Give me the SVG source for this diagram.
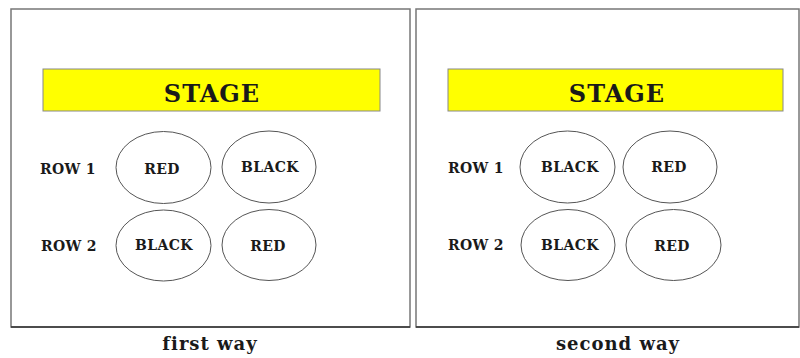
<svg xmlns="http://www.w3.org/2000/svg" width="800" height="358" viewBox="0 0 800 358">
<style>
.panel{fill:#fff;stroke:#777;stroke-width:1.5}
.base{stroke:#333;stroke-width:1.5}
.stage{fill:#ffff00;stroke:#888;stroke-width:1}
.seat{fill:#fff;stroke:#555;stroke-width:1}
text{font-family:"DejaVu Serif","Liberation Serif",serif;font-weight:bold;fill:#1a1a1a}
.st{font-size:24px;text-anchor:middle;letter-spacing:1px}
.lbl{font-size:14px;letter-spacing:0.3px}
.seatt{font-size:14px;text-anchor:middle;letter-spacing:0.4px}
.cap{font-size:18px;text-anchor:middle;letter-spacing:1px}
</style>
<rect width="800" height="358" fill="#fff"/>
<g id="first">
<rect class="panel" x="11" y="9" width="399" height="318"/>
<line class="base" x1="11" y1="327" x2="410" y2="327"/>
<g id="stage1"><rect class="stage" x="43" y="69" width="337" height="42"/><text class="st" x="212" y="102">STAGE</text></g>
<text class="lbl" x="40" y="174">ROW 1</text>
<text class="lbl" x="41" y="251">ROW 2</text>
<g id="s1a"><ellipse class="seat" cx="163.5" cy="167.5" rx="47.5" ry="36"/><text class="seatt" x="162" y="174">RED</text></g>
<g id="s1b"><ellipse class="seat" cx="269" cy="167" rx="47" ry="36"/><text class="seatt" x="270" y="172">BLACK</text></g>
<g id="s1c"><ellipse class="seat" cx="163.5" cy="245.5" rx="47.5" ry="35.5"/><text class="seatt" x="164" y="250">BLACK</text></g>
<g id="s1d"><ellipse class="seat" cx="269" cy="245" rx="47" ry="35.5"/><text class="seatt" x="268" y="251">RED</text></g>
<text class="cap" x="210" y="350">first way</text>
</g>
<g id="second">
<rect class="panel" x="416" y="9" width="383" height="318"/>
<line class="base" x1="416" y1="327" x2="799" y2="327"/>
<g id="stage2"><rect class="stage" x="448" y="69" width="335" height="42"/><text class="st" x="617" y="102">STAGE</text></g>
<text class="lbl" x="448" y="173">ROW 1</text>
<text class="lbl" x="448" y="250">ROW 2</text>
<g id="s2a"><ellipse class="seat" cx="567.5" cy="167" rx="47.5" ry="36"/><text class="seatt" x="570" y="172">BLACK</text></g>
<g id="s2b"><ellipse class="seat" cx="670" cy="167" rx="47" ry="36"/><text class="seatt" x="669" y="172">RED</text></g>
<g id="s2c"><ellipse class="seat" cx="568" cy="245" rx="47" ry="35.5"/><text class="seatt" x="570" y="250">BLACK</text></g>
<g id="s2d"><ellipse class="seat" cx="673.5" cy="245" rx="47.5" ry="35.5"/><text class="seatt" x="672" y="251">RED</text></g>
<text class="cap" x="618" y="350">second way</text>
</g>
<g id="connectors"/>
</svg>
